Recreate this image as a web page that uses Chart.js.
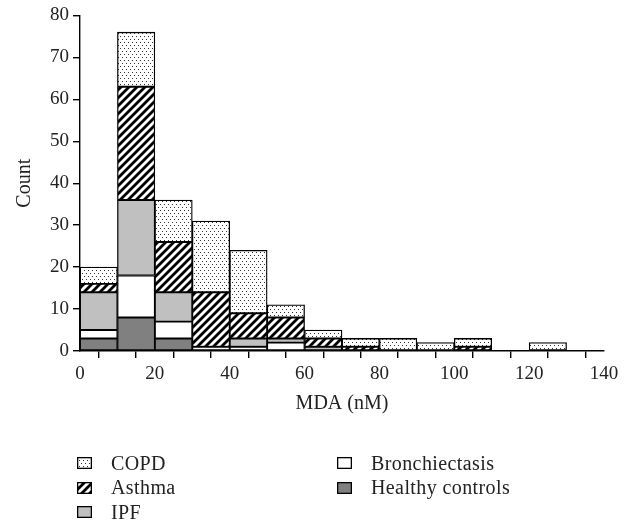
<!DOCTYPE html>
<html>
<head>
<meta charset="utf-8">
<script src="https://cdn.jsdelivr.net/npm/chart.js@4/dist/chart.umd.min.js"></script>
<style>
  body { margin: 0; background: #fff; font-family: 'Liberation Serif', serif; color: #222; }
  #wrap { position: relative; width: 633px; height: 527px; }
  #chart-box { position: absolute; left: 0; top: 0; width: 633px; height: 420px; }
  #legend { position: absolute; left: 77px; top: 451px; width: 540px; font-size: 20px; letter-spacing: 0.4px; }
  .col { position: absolute; top: 0; }
  .item { height: 24.5px; display: flex; align-items: center; white-space: nowrap; }
  .item canvas { margin-right: 19px; }
</style>
</head>
<body>
<div id="wrap">
  <div id="chart-box"><canvas id="histChart" width="633" height="420"></canvas></div>
  <div id="legend"></div>
</div>
<script>
// histogram bins, width 10 nM
const binStarts = [0, 10, 20, 30, 40, 50, 60, 70, 80, 90, 100, 110, 120];
const binWidth = 10;

// counts per bin
const healthy = [3, 8, 3, 0, 0, 0, 0, 0, 0, 0, 0, 0, 0];
const bronchiectasis = [2, 10, 4, 1, 1, 2, 0, 0, 0, 0, 0, 0, 0];
const ipf = [9, 18, 7, 0, 2, 1, 1, 0, 0, 0, 0, 0, 0];
const asthma = [2, 27, 12, 13, 6, 5, 2, 1, 0, 0, 1, 0, 0];
const copd = [4, 13, 10, 17, 15, 3, 2, 2, 3, 2, 2, 0, 2];

const yTicks = [0, 10, 20, 30, 40, 50, 60, 70, 80];
const xLabels = [0, 20, 40, 60, 80, 100, 120, 140];

const makeTile = (w, h, draw) => {
  const c = document.createElement('canvas');
  c.width = w; c.height = h;
  const g = c.getContext('2d');
  g.fillStyle = '#fff';
  g.fillRect(0, 0, w, h);
  draw(g);
  return c;
};

// staggered dot screen for COPD
const dotTile = makeTile(4, 6, (g) => {
  g.fillStyle = '#333';
  g.fillRect(0, 0, 1, 1);
  g.fillRect(2, 3, 1, 1);
});

// thick "/" hatch for asthma
const hatchTile = makeTile(8, 8, (g) => {
  g.strokeStyle = '#000';
  g.lineWidth = 2.8;
  g.beginPath();
  g.moveTo(-2, 10); g.lineTo(10, -2);
  g.moveTo(-6, 6); g.lineTo(6, -6);
  g.moveTo(2, 14); g.lineTo(14, 2);
  g.stroke();
});

const tmp = document.createElement('canvas').getContext('2d');
const dots = tmp.createPattern(dotTile, 'repeat');
const hatch = tmp.createPattern(hatchTile, 'repeat');

// bottom of the stack first
const series = [
  { label: 'Healthy controls', values: healthy, fill: '#808080' },
  { label: 'Bronchiectasis', values: bronchiectasis, fill: '#ffffff' },
  { label: 'IPF', values: ipf, fill: '#c0c0c0' },
  { label: 'Asthma', values: asthma, fill: hatch },
  { label: 'COPD', values: copd, fill: dots }
];

Chart.defaults.font.family = "'Liberation Serif', serif";
Chart.defaults.font.size = 19;
Chart.defaults.color = '#222';

const axisGrid = { drawOnChartArea: false, drawTicks: true, tickLength: 7, color: '#000', lineWidth: 1.4 };
const axisBorder = { color: '#000', width: 1.4 };

const chart = new Chart(document.getElementById('histChart'), {
  type: 'bar',
  data: {
    datasets: series.map((s) => ({
      label: s.label,
      data: binStarts.map((b, i) => ({ x: b + binWidth / 2, y: s.values[i] || null })),
      backgroundColor: s.fill,
      borderColor: '#000',
      borderWidth: 1.3,
      borderSkipped: false,
      barPercentage: 1,
      categoryPercentage: 1
    }))
  },
  options: {
    responsive: false,
    animation: false,
    layout: { padding: { left: 0, right: 29, top: 10, bottom: 0 } },
    plugins: { legend: { display: false }, tooltip: { enabled: false } },
    scales: {
      x: {
        type: 'linear',
        stacked: true,
        min: 0,
        max: 140,
        offset: false,
        grid: axisGrid,
        border: axisBorder,
        afterBuildTicks: (axis) => {
          axis.ticks = [];
          for (let v = 0; v <= 140; v += binWidth) axis.ticks.push({ value: v });
        },
        afterFit: (axis) => { axis.height = 69; },
        ticks: {
          autoSkip: false,
          maxRotation: 0,
          padding: 5,
          callback: (v) => (xLabels.includes(v) ? v : '')
        },
        title: { display: true, text: 'MDA (nM)', font: { size: 20 }, padding: { top: 0, bottom: 4 } }
      },
      y: {
        stacked: true,
        min: 0,
        max: 80,
        grid: axisGrid,
        border: axisBorder,
        afterBuildTicks: (axis) => { axis.ticks = yTicks.map((v) => ({ value: v })); },
        afterFit: (axis) => { axis.width = 80; },
        ticks: { padding: 4 },
        title: { display: true, text: 'Count', font: { size: 20 }, padding: { top: 13, bottom: 0 } }
      }
    }
  }
});

// two-column legend built from the datasets
const legend = document.getElementById('legend');
const columns = [['COPD', 'Asthma', 'IPF'], ['Bronchiectasis', 'Healthy controls']];
columns.forEach((names, ci) => {
  const col = document.createElement('div');
  col.className = 'col';
  col.style.left = ci === 0 ? '0px' : '260px';
  names.forEach((name) => {
    const ds = chart.data.datasets.find((d) => d.label === name);
    const item = document.createElement('div');
    item.className = 'item';
    const sw = document.createElement('canvas');
    sw.width = 15; sw.height = 12;
    const g = sw.getContext('2d');
    g.fillStyle = ds.backgroundColor;
    g.fillRect(0, 0, 15, 12);
    g.strokeStyle = '#000';
    g.lineWidth = 1.3;
    g.strokeRect(0.65, 0.65, 13.7, 10.7);
    item.appendChild(sw);
    item.appendChild(document.createTextNode(name));
    col.appendChild(item);
  });
  legend.appendChild(col);
});
</script>
</body>
</html>
